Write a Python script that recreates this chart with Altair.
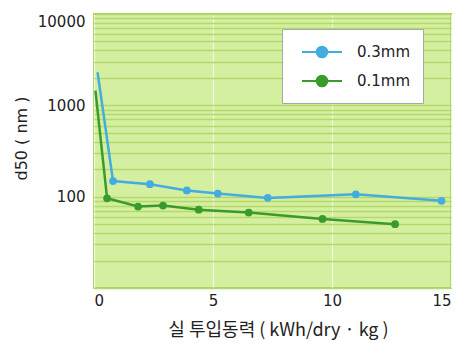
import altair as alt
import pandas as pd

series_names = ["0.3mm", "0.1mm"]
x_03 = [0.15, 0.8, 2.35, 3.9, 5.2, 7.3, 11.0, 14.6]
y_03 = [2300, 148, 137, 117, 108, 97, 106, 90]
x_01 = [0.06, 0.55, 1.85, 2.9, 4.4, 6.5, 9.6, 12.65]
y_01 = [1450, 96, 78, 80, 72, 67, 57, 50]
marker_03 = [0, 1, 1, 1, 1, 1, 1, 1]
marker_01 = [0, 1, 1, 1, 1, 1, 1, 1]

x_ticks = [0, 5, 10, 15]
y_labels = [100, 1000, 10000]
y_grid = [m * 10 ** e for e in (1, 2, 3) for m in range(1, 10)] + [10000]

colors = ["#43ace0", "#3a9b2c"]

rows = []
for name, xs, ys, ms in [(series_names[0], x_03, y_03, marker_03),
                         (series_names[1], x_01, y_01, marker_01)]:
    for i, (xv, yv, mv) in enumerate(zip(xs, ys, ms)):
        rows.append({"series": name, "x": xv, "y": yv, "order": i, "marker": mv})
df = pd.DataFrame(rows)

FONT = "DejaVu Sans"
label_test = " || ".join(f"datum.value == {v}" for v in y_labels)

x_enc = alt.X("x:Q", scale=alt.Scale(domain=[0, 15], nice=False),
              axis=alt.Axis(values=x_ticks, title="실 투입동력 ( kWh/dry · kg )",
                            titleFont="Noto Sans CJK KR", titleFontSize=18, titleFontWeight="normal",
                            titleColor="#222", titleX=184, titleY=42, titleBaseline="middle",
                            labelFont=FONT, labelFontSize=15, labelColor="#222", labelPadding=5,
                            ticks=False, domain=False,
                            grid=True, gridColor="#f2f9e2", gridWidth=1.2))
y_enc = alt.Y("y:Q", scale=alt.Scale(type="log", domain=[10, 10000], nice=False),
              axis=alt.Axis(values=y_grid, title="d50 ( nm )", format="d",
                            labelExpr=f"({label_test}) ? datum.label : ''",
                            labelFlush=True,
                            titleFont=FONT, titleFontSize=16, titleFontWeight="normal",
                            titleColor="#222", titleX=-73, titleY=124, titleAngle=270,
                            titleAlign="center", titleBaseline="middle",
                            labelFont=FONT, labelFontSize=15, labelColor="#222", labelPadding=9,
                            ticks=False, domain=False,
                            grid=True, gridColor="#b3d96c", gridWidth=1.5))

color_enc = alt.Color("series:N", scale=alt.Scale(domain=series_names, range=colors),
                      legend=alt.Legend(title=None, orient="none", legendX=188, legendY=15,
                                        fillColor="#ffffff", strokeColor="#a8a8a8",
                                        padding=12, rowPadding=8,
                                        labelFont=FONT, labelFontSize=15, labelColor="#222",
                                        labelOffset=24, symbolOffset=17,
                                        symbolType="M-2,0L2,0M-0.53,0A0.53,0.53 0 1,1 0.53,0A0.53,0.53 0 1,1 -0.53,0Z",
                                        symbolSize=400, symbolStrokeWidth=2))

base = alt.Chart(df)
points = base.transform_filter("datum.marker == 1").mark_circle(size=60, opacity=1).encode(
    x=x_enc, y=y_enc, color=color_enc)
lines = base.mark_line(strokeWidth=2.5).encode(
    x=x_enc, y=y_enc, color=color_enc, order="order:Q", detail="series:N")

chart = alt.layer(points, lines).properties(
    width=357, height=274,
    autosize=alt.AutoSizeParams(type="none"),
    padding={"left": 86, "top": 6, "right": 5, "bottom": 52},
    background="#ffffff",
).configure_view(fill="#d4ef9f", stroke="#a6d25c", strokeWidth=2)

chart.save("out.html", embed_options={"renderer": "svg", "actions": False})
